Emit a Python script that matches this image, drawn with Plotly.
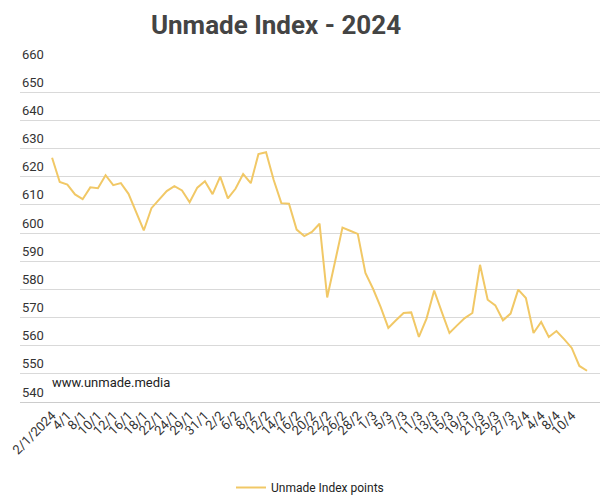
import plotly.graph_objects as go

dates = ["2/1/2024", "3/1", "4/1", "5/1", "8/1", "9/1", "10/1", "11/1", "12/1", "15/1",
         "16/1", "17/1", "18/1", "19/1", "22/1", "23/1", "24/1", "25/1", "29/1", "30/1",
         "31/1", "1/2", "2/2", "5/2", "6/2", "7/2", "8/2", "9/2", "12/2", "13/2",
         "14/2", "15/2", "16/2", "19/2", "20/2", "21/2", "22/2", "23/2", "26/2", "27/2",
         "28/2", "29/2", "1/3", "4/3", "5/3", "6/3", "7/3", "8/3", "11/3", "12/3",
         "13/3", "14/3", "15/3", "18/3", "19/3", "20/3", "21/3", "22/3", "25/3", "26/3",
         "27/3", "28/3", "2/4", "3/4", "4/4", "5/4", "8/4", "9/4", "10/4", "11/4", "12/4"]

points = [626.7, 618.1, 617.2, 613.7, 612.0, 616.2, 615.9, 620.5, 617.0, 617.7,
          613.9, 607.4, 600.9, 608.8, 612.0, 614.9, 616.6, 615.1, 610.9, 616.1,
          618.4, 613.8, 620.0, 612.3, 615.7, 620.9, 617.7, 628.0, 628.7, 618.8,
          610.6, 610.4, 601.2, 598.9, 600.4, 603.3, 577.1, 590.0, 601.9, 600.8,
          599.7, 585.8, 580.2, 573.7, 566.3, 569.0, 571.6, 571.8, 563.1, 569.6,
          579.6, 571.9, 564.5, 567.2, 569.8, 571.6, 588.7, 576.3, 574.3, 569.0,
          571.4, 579.9, 576.9, 564.5, 568.4, 563.1, 565.2, 562.3, 559.2, 552.8, 551.1]

y_ticks = list(range(540, 661, 10))

idx = list(range(len(dates)))
tick_idx = idx[0:69:2]
tick_text = [dates[i] for i in tick_idx]

fig = go.Figure()
fig.add_trace(go.Scatter(x=idx, y=points, mode="lines", name="Unmade Index points",
                         line=dict(color="#F1C866", width=2), hovertext=dates))

# y labels sit above their gridlines, left-aligned
notes = [dict(text=str(v), x=0, y=v, xref="paper", yref="y", xanchor="left",
              yanchor="middle", yshift=10, showarrow=False,
              font=dict(size=13, color="#333333")) for v in y_ticks]
notes.append(dict(text="www.unmade.media", x=-0.3, y=547, xref="x", yref="y",
                  xanchor="left", showarrow=False, font=dict(size=13, color="#222222")))

fig.update_layout(
    width=606, height=500,
    paper_bgcolor="white", plot_bgcolor="white",
    font=dict(family="Roboto, sans-serif", color="#333333", size=12),
    margin=dict(l=20, r=6, t=64, b=98, autoexpand=False),
    title=dict(text="<b>Unmade Index - 2024</b>", x=276/606, xanchor="center",
               y=0.95, yanchor="middle", font=dict(size=26, color="#444444")),
    showlegend=True,
    legend=dict(orientation="h", x=0.5, xanchor="center", yref="container", y=0.025,
                yanchor="middle", font=dict(size=12, color="#222222")),
    annotations=notes,
)
fig.update_xaxes(range=[-4.2, 71.7], tickvals=tick_idx, ticktext=tick_text, tickangle=-45,
                 showgrid=False, zeroline=False, showline=True, linecolor="#cccccc",
                 ticks="", automargin=False,
                 tickfont=dict(size=13, color="#333333"))
fig.update_yaxes(range=[540, 660], tickvals=y_ticks, showticklabels=False,
                 gridcolor="#d9d9d9", zeroline=False, automargin=False)

fig.write_html("out.html", config={"displayModeBar": False},
               post_script="document.body.style.margin='0';")
